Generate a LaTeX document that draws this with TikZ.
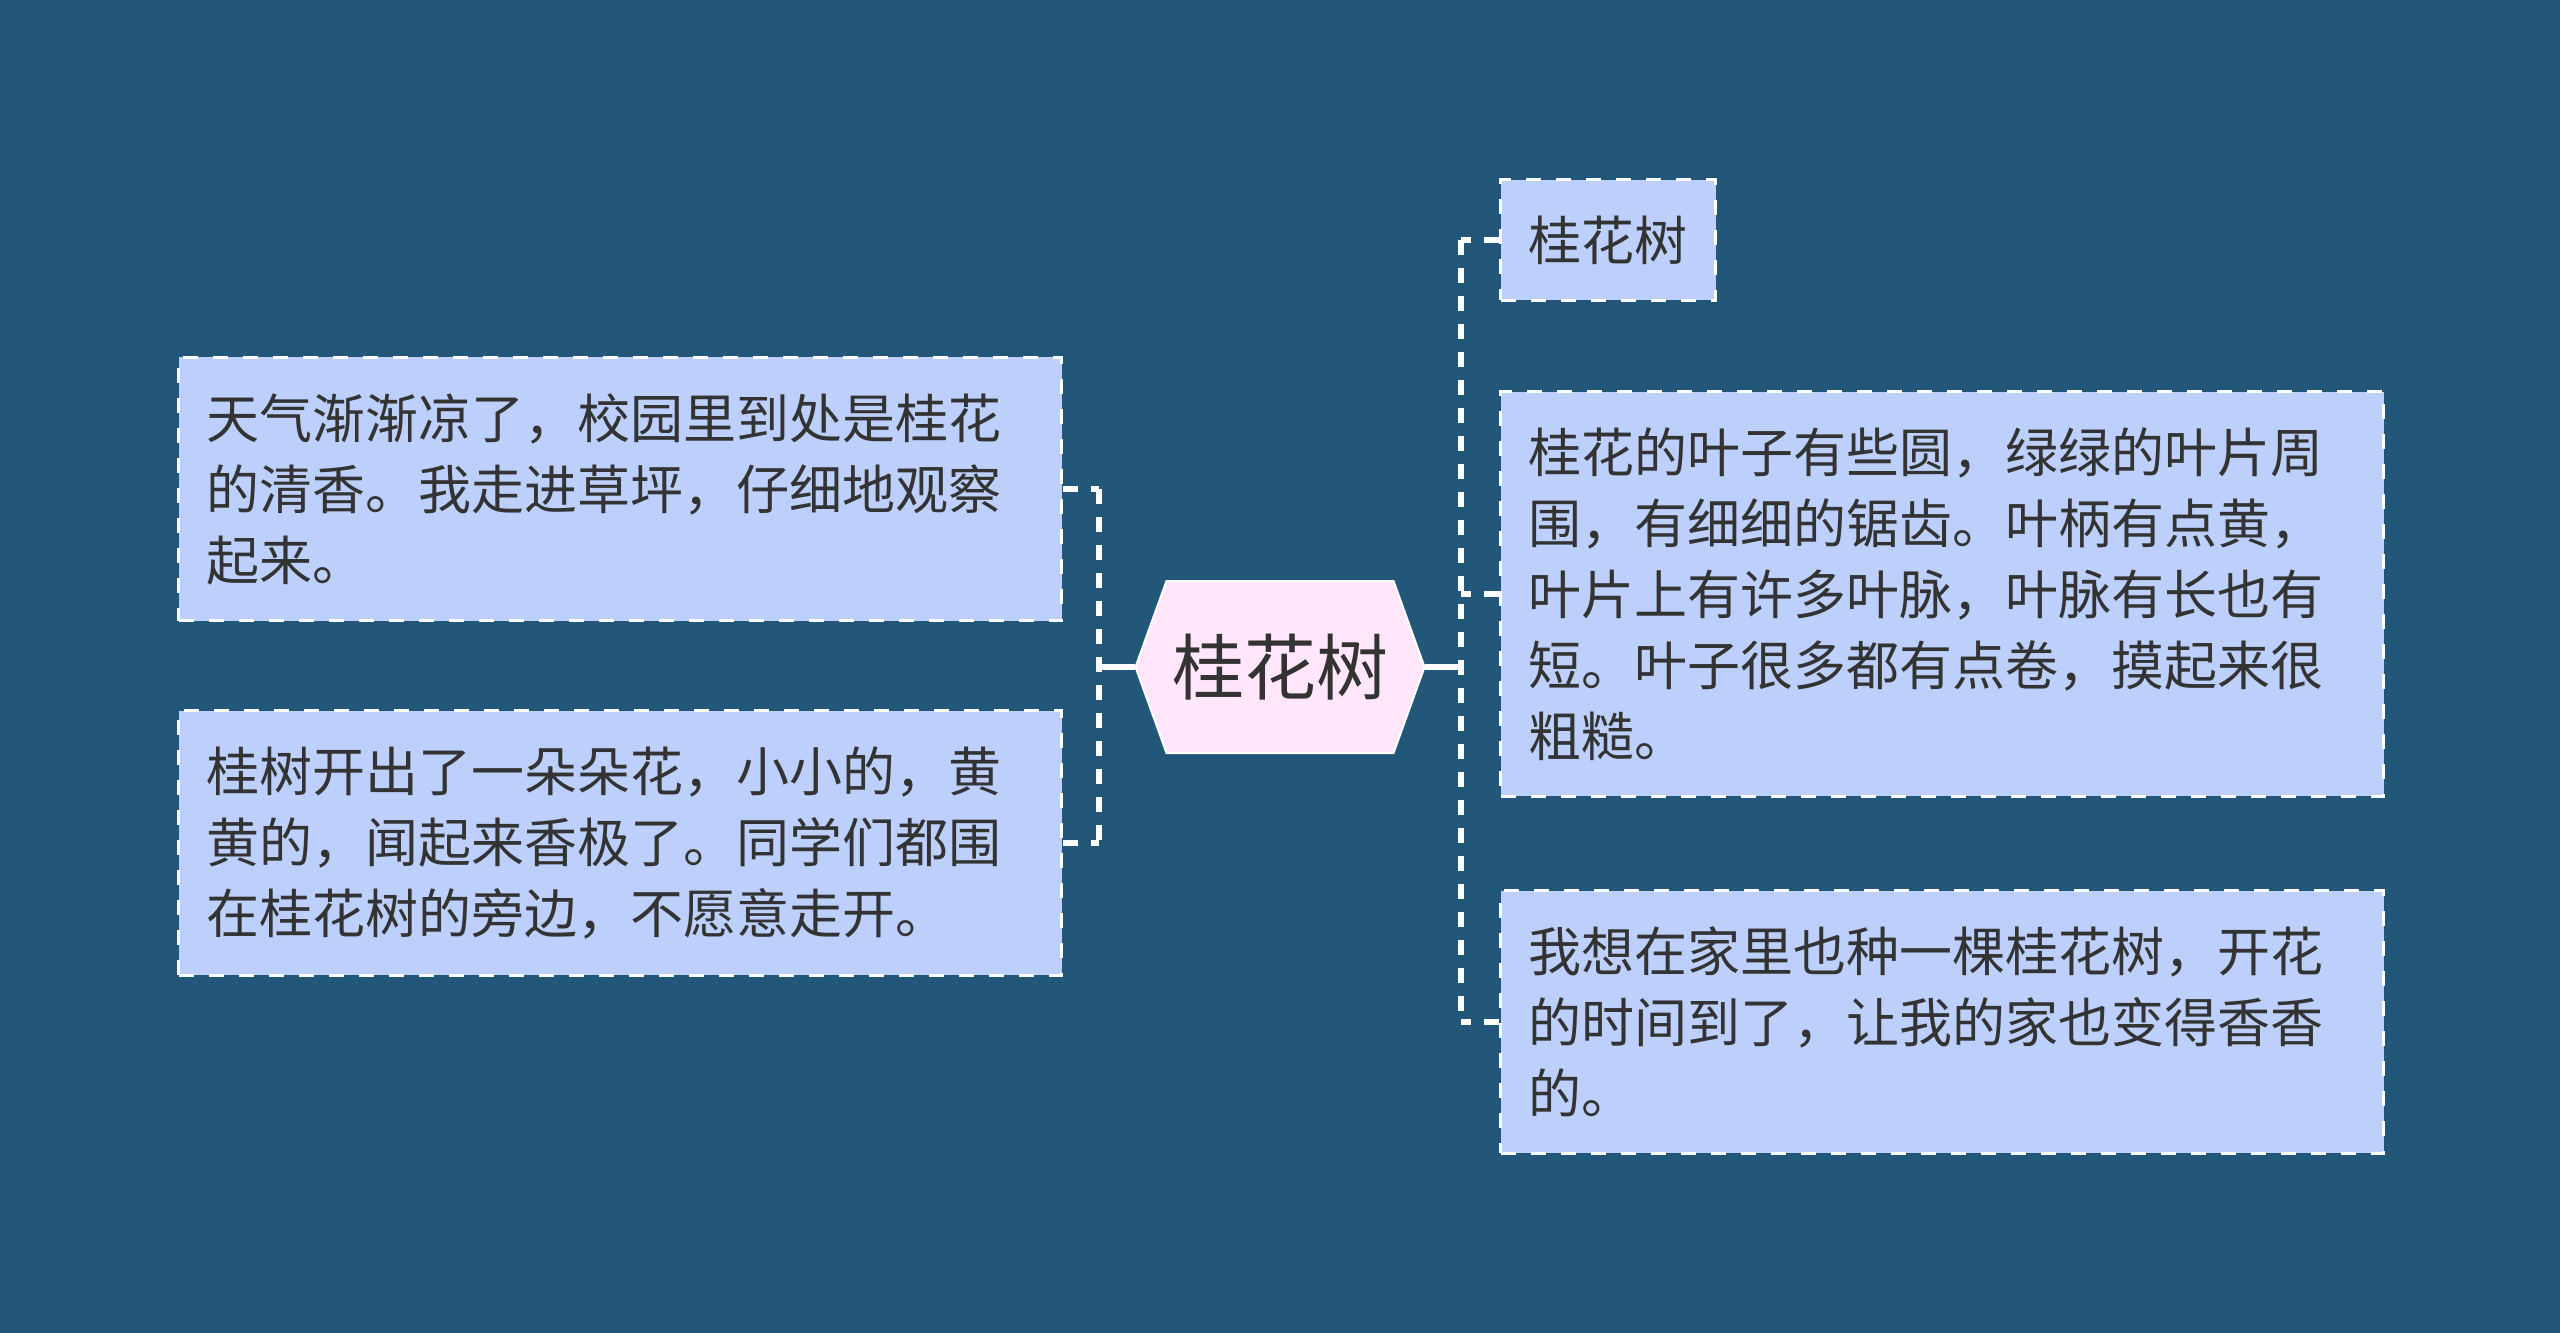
\documentclass[tikz,border=0pt]{standalone}
\usepackage{fontspec}
\newfontfamily\cjk{Noto Sans CJK SC}
\definecolor{bgblue}{HTML}{22577A}
\definecolor{boxblue}{HTML}{BCD0FB}
\definecolor{hexpink}{HTML}{FFE6FA}
\definecolor{txtgray}{HTML}{333333}
\tikzset{
    topic/.style={draw=white, line width=1.6pt, dash pattern=on 7.5pt off 7.5pt, fill=boxblue,
        text=txtgray, font=\cjk\fontsize{26.5}{35.5}\selectfont, align=left,
        inner xsep=14pt, inner ysep=18pt, anchor=west},
    wide/.style={text width=413.5pt},
    link/.style={draw=white, line width=3pt, dash pattern=on 7.5pt off 6.5pt},
}
\begin{document}
\begin{tikzpicture}[x=0.5pt, y=-0.5pt]
    \useasboundingbox[fill=bgblue] (0,0) rectangle (2560,1333);
    \coordinate (c) at (1280,667);
    \draw[fill=hexpink, draw=white, line width=1pt] (c) ++(-144.5,0) -- ++(31,-86) -- ++(227,0)
        -- ++(31,86) -- ++(-31,86) -- ++(-227,0) -- cycle;
    \node[minimum width=144.5pt, minimum height=86pt, inner sep=0pt, text=txtgray,
        font=\cjk\fontsize{36}{40}\selectfont] (root) at (c) {桂花树};

    \node[topic, wide] (l1) at (177,489) {天气渐渐凉了，校园里到处是桂花\\的清香。我走进草坪，仔细地观察\\起来。};
    \node[topic, wide] (l2) at (177,843) {桂树开出了一朵朵花，小小的，黄\\黄的，闻起来香极了。同学们都围\\在桂花树的旁边，不愿意走开。};
    \node[topic] (r1) at (1499,240) {桂花树};
    \node[topic, wide] (r2) at (1499,594) {桂花的叶子有些圆，绿绿的叶片周\\围，有细细的锯齿。叶柄有点黄，\\叶片上有许多叶脉，叶脉有长也有\\短。叶子很多都有点卷，摸起来很\\粗糙。};
    \node[topic, wide] (r3) at (1499,1022) {我想在家里也种一棵桂花树，开花\\的时间到了，让我的家也变得香香\\的。};

    \coordinate (lj) at (1099,667);
    \coordinate (rj) at (1461,667);
    \draw[white, line width=3pt] (root.west) -- (lj);
    \draw[white, line width=3pt] (root.east) -- (rj);
    \draw[link] (l1.east -| lj) -- (l2.east -| lj);
    \draw[link] (l1.east) -- (l1.east -| lj);
    \draw[link] (l2.east) -- (l2.east -| lj);
    \draw[link] (r1.west -| rj) -- (r3.west -| rj);
    \draw[link] (r1.west) -- (r1.west -| rj);
    \draw[link] (r2.west) -- (r2.west -| rj);
    \draw[link] (r3.west) -- (r3.west -| rj);
\end{tikzpicture}
\end{document}
